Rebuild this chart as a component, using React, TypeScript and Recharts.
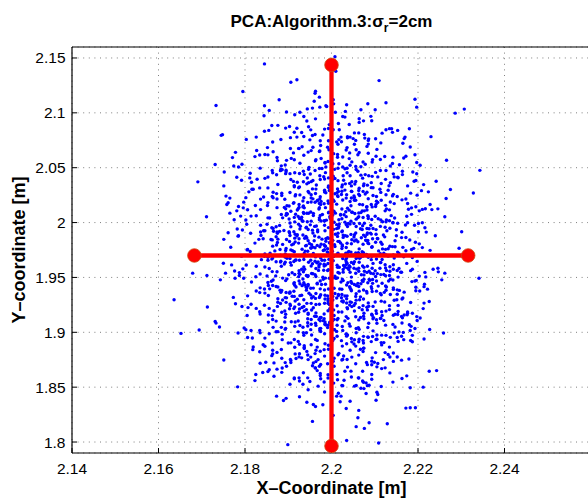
import { ScatterChart, Scatter, XAxis, YAxis, CartesianGrid, Label } from "recharts";

const FONT = "'Liberation Sans', Arial, Helvetica, sans-serif";

// tick values [m]
const xTicks = [2.14, 2.16, 2.18, 2.2, 2.22, 2.24];
const yTicks = [1.8, 1.85, 1.9, 1.95, 2, 2.05, 2.1, 2.15];

// estimated positions, [x, y] in units of 0.1 mm
// dense part of the cloud, above the minor axis (y >= 1.97 m)
const coreAbove: [number, number][] = [
  [22034,19773],[21938,19857],[22121,19720],[21996,19815],[22053,19889],[21869,19742],[22080,19836],[21975,19701],[22007,19798],[22172,19864],
  [21906,19751],[22061,19825],[21958,19719],[22103,19893],[21985,19787],[22079,19840],[21812,19736],[22117,19802],[21920,19878],[22024,19764],
  [22143,19706],[21967,19792],[22069,19861],[21881,19754],[22015,19829],[21846,19713],[22092,19895],[21940,19788],[22047,19843],[22153,19731],
  [21912,19805],[21961,19877],[22118,19760],[22210,19772],[21993,19856],[22056,19724],[21875,19818],[22032,19881],[21939,19740],[22084,19837],
  [22135,19784],[21896,19846],[22002,19738],[22046,19807],[21941,19873],[22190,19765],[21973,19779],[22095,19852],[21858,19721],[22021,19814],
  [22074,19886],[21910,19743],[21987,19830],[22126,19705],[21954,19798],[22162,19863],[21805,19751],[22018,19827],[22063,19716],[21921,19890],
  [22107,19853],[21992,19726],[22036,19811],[21904,19882],[22228,19747],[21960,19834],[22081,19709],[21873,19795],[22052,19868],[21984,19752],
  [22114,19820],[21937,19718],[22009,19894],[22141,19781],[21832,19847],[22040,19736],[21976,19803],[22078,19872],[21895,19763],[22093,19775],
  [22025,19796],[21943,19860],[22185,19754],[21916,19823],[22013,19712],[22120,19887],[21864,19785],[22057,19841],[21990,19733],[22086,19808],
  [21784,19876],[22064,19760],[21962,19771],[22106,19855],[22038,19727],[21924,19813],[22150,19880],[21981,19745],[22003,19838],[21882,19703],
  [21978,19849],[22071,19735],[21887,19801],[22014,19874],[21953,19768],[22147,19779],[21925,19852],[22033,19720],[21995,19816],[21837,19883],
  [22109,19742],[21946,19835],[22051,19706],[21908,19797],[22027,19865],[21932,19757],[22194,19821],[21893,19714],[22082,19892],[21986,19784],
  [21860,19846],[22045,19731],[21949,19809],[22123,19870],[21991,19762],[22165,19774],[21915,19858],[22062,19725],
  [22127,20024],[22005,19938],[22029,20071],[21851,19985],[22083,19906],[21972,20043],[21906,19962],[22048,20095],[21944,20007],[22219,19913],
  [21923,20056],[22016,19951],[21958,20084],[22142,19997],[21880,19920],[21997,20038],[22091,19976],[21826,20062],[22067,19943],[21984,20015],
  [21914,20047],[22113,19965],[21935,20092],[22031,20004],[21968,19917],[22174,20058],[21862,19953],[22009,20086],[22076,19994],[21890,19928],
  [22024,20035],[21951,19979],[22138,20063],[21927,19941],[22045,20012],[21775,20026],[22103,19936],[21979,20074],[22012,19981],[21903,19908],
  [22085,20053],[21942,19957],[21993,20089],[22201,19992],[21846,19925],[22057,20031],[21880,19974],[22021,20068],[22096,19946],[21932,20017],
  [21988,20022],[22150,19934],[21917,20076],[22034,19983],[21813,19902],[22061,20045],[21965,19969],[22002,20093],[22118,20008],[21874,19915],
  [21926,20037],[22072,19971],[21974,20064],[22135,19948],[21953,20013],[22017,20025],[21794,19932],[21898,20078],[22043,19986],[22090,19904],
  [21857,20042],[21961,19965],[22068,20091],[21915,20006],[22163,19912],[21996,20054],[22124,19958],[21947,20085],[22039,19993],[21866,19921],
  [21983,20016],[22087,19944],[21895,20067],[22192,19975],[21930,20034],[22025,19923],[21904,19996],[22054,20082],[21941,19952],[22101,20057],
  [21836,19914],[22006,20003],[22033,20098],[21928,19967],[22146,20041],[21957,19905],[22018,19987],[21884,20073],[22071,19937],[21972,20026],
  [22037,19964],[21931,20048],[22128,19926],[21994,20095],[22052,19991],[21865,19947],[22084,20063],[21976,20014],[22015,19903],[22171,19978],
  [21902,20032],[22063,20087],[21956,19931],
  [21874,20136],[22052,20243],[21953,20187],[22131,20294],[22006,20102],[22172,20215],[21925,20164],[22078,20261],[21971,20123],[21863,20238],
  [22104,20195],[22047,20282],[21902,20151],[21806,20117],[22023,20256],[21968,20204],[22145,20173],[21984,20278],[22081,20142],[21936,20226],
  [21885,20267],[22127,20124],[22015,20238],[21976,20193],[22073,20284],[21824,20156],[22041,20113],[21927,20252],[22163,20207],[21993,20175],
  [21948,20271],[22102,20146],[22034,20223],[21891,20138],[22065,20247],[21853,20182],[22208,20291],[22004,20105],[21957,20216],[22092,20164],
  [21917,20254],[22026,20206],[21983,20172],[22114,20275],[21785,20147],[22053,20228],[21937,20134],[22141,20243],[21962,20185],[22031,20296],
  [21906,20103],[22085,20217],[22012,20168],[21873,20264],[22178,20121],[21974,20236],[22043,20192],[21946,20283],[22125,20157],[21921,20114],
  [21995,20292],[22076,20107],[21836,20214],[22103,20166],[22008,20263],[21894,20125],[22152,20237],[21967,20198],[22024,20285],[21935,20152],
  [22232,20118],[21953,20254],[22056,20203],[21912,20176],[21987,20272],[22094,20143],[21865,20226],[22037,20131],[22014,20245],[22136,20187],
  [21973,20216],[22045,20153],[21904,20274],[22082,20115],[21992,20197],[22063,20258],
  [21973,20426],[22074,20335],[21882,20473],[22015,20382],[21956,20307],[22143,20444],[21921,20368],[22036,20495],[22008,20401],[21834,20316],
  [22102,20457],[21943,20353],[22057,20484],[21906,20392],[22024,20325],[21937,20438],[22191,20376],[21895,20462],[22083,20341],[21982,20417],
  [21864,20453],[22042,20357],[21947,20486],[22125,20394],[21993,20322],[22164,20437],[21912,20375],[22061,20468],[21965,20343],[21853,20415],
  [22094,20421],[22046,20334],[21895,20477],[21792,20386],[22014,20306],[21951,20442],[22136,20364],[21978,20493],[22072,20405],[21924,20317],
  [21876,20347],[22113,20474],[22002,20393],[21964,20305],[22068,20432],[21815,20368],[22031,20491],[21914,20326],[22153,20414],[21986,20455],
  [21935,20372],[22092,20318],[22027,20427],[21883,20486],[22054,20351],[21846,20403],[22197,20445],[21993,20334],
  [21964,20573],[22042,20635],[21893,20524],[22105,20667],[21987,20506],[21936,20614],[22073,20552],[21852,20683],[22026,20597],[22141,20538],
  [21953,20656],[22014,20621],[21907,20585],[22082,20694],[21985,20543],[22056,20512],[21924,20676],[22123,20602],[21972,20647],[21875,20564],
  [22034,20661],[22003,20536],[22167,20589],[21948,20503],[22061,20618],[21912,20635],[22095,20574],[21991,20687],[21834,20616],[22047,20553],
  [21974,20745],[22053,20817],[21903,20876],[22015,20714],[22086,20763],[21952,20845],[22114,20726],[21995,20893],[21864,20734],[22037,20782],
];

// more of the upper half, where the cloud is almost solid blue
const extraAbove: [number, number][] = [
  [22053,19832],[21894,19745],[22027,19886],[21942,19791],[22156,19718],[21987,19854],[22094,19779],[21823,19813],[22046,19704],[21971,19867],
  [22125,19756],[21916,19893],[22008,19782],[22074,19725],[21863,19842],[22203,19806],[21952,19768],[22036,19875],[21914,19734],[22102,19821],
  [21983,19798],[22067,19709],[21842,19853],[22131,19762],[21934,19887],[22015,19721],[22084,19814],[21876,19849],[22172,19743],[21957,19776],
  [21991,19862],[22113,19716],[21903,19827],[22045,19892],[21806,19754],[22073,19803],[21945,19738],[22147,19834],[22025,19785],[21872,19871],
  [21984,19976],[22063,20054],[21843,19925],[22134,20017],[21936,20082],[22012,19945],[22085,20036],[21875,19903],[22176,19998],[21958,20065],
  [21993,19954],[22114,20023],[21902,19917],[22047,20094],[21804,19985],[22073,20046],[21946,19937],[22142,20001],[22021,20073],[21872,19962],
  [22093,20028],[21968,19933],[22185,20075],[21924,19984],[22056,19905],[21853,20043],[22017,19964],[21952,20096],[22126,20007],[21913,19917],
  [22034,20054],[22216,19953],[21896,20083],[22065,19992],[21985,19926],[22108,20035],[21836,19976],[22003,20068],[22082,19946],[21934,20012],
  [22057,19964],[21887,20043],[22024,19916],[21943,20085],[22153,19994],
  [21934,20143],[22082,20276],[22006,20194],[21836,20118],[22104,20237],[21975,20165],[22063,20292],[21892,20213],[22217,20126],[22035,20254],
  [21913,20182],[22124,20107],[21953,20225],[22016,20283],[21852,20156],[22053,20204],[21925,20137],[22183,20268],[21972,20174],[22096,20246],
  [21874,20215],[22024,20123],[22143,20257],[21945,20184],[22071,20105],[21802,20227],[22046,20286],[21897,20153],[22115,20204],[21986,20136],
  [21963,20265],[22176,20174],[21885,20247],[22082,20145],[22013,20273],[21934,20196],[22134,20116],[21843,20233],[22065,20166],[21984,20294],
  [22107,20184],[21916,20243],[21972,20135],[22046,20224],[22203,20107],[21865,20276],[22072,20163],[22004,20205],[21923,20126],[22126,20254],
  [22036,20454],[21914,20337],[22145,20416],[21953,20373],[22007,20485],[22112,20304],[21873,20436],[22075,20353],[21984,20397],[22164,20468],
  [21926,20325],[22043,20427],[21835,20496],[22092,20364],[21993,20407],[22064,20313],[21894,20446],[22195,20383],[21962,20475],[22025,20342],
  [21947,20364],[22126,20475],[21853,20316],[22086,20427],[21974,20393],[22015,20495],[22133,20336],[21904,20446],[22056,20374],[21816,20303],
  [22107,20416],[21935,20467],[22032,20353],[22154,20408],[21886,20482],[21993,20325],[22078,20437],[21957,20384],[22213,20346],[21915,20454],
  [22004,20423],[22096,20317],[21863,20475],[22047,20372],[21944,20406],[22176,20334],[21972,20493],[22115,20356],[21926,20447],[22028,20385],
  [21963,20564],[22085,20632],[21884,20517],[22036,20683],[22142,20596],[21927,20541],[21994,20663],[21853,20617],[22068,20508],[22113,20575],
  [21946,20642],[22017,20536],[22172,20604],[21905,20675],[22043,20523],[21976,20584],[21827,20657],[22094,20552],[22005,20628],[21932,20691],
  [22136,20515],[21874,20593],[22057,20664],[21985,20547],[22193,20618],[21914,20573],[22026,20506],[21865,20645],[22078,20532],[21957,20687],
  [22103,20604],[21992,20556],[21846,20621],[22041,20583],[21925,20674],[22157,20527],[21973,20652],[21896,20567],[22064,20638],[22014,20595],
  [21993,20746],[21914,20823],[22085,20715],[21862,20884],[22037,20772],[22134,20856],[21956,20793],[22012,20735],[21894,20861],[22063,20817],
  [21975,20703],[22102,20764],[21845,20832],[22041,20894],[21936,20785],[22165,20723],[22004,20846],[21883,20757],[22076,20802],[21947,20873],
  [22023,20736],[22117,20815],[21905,20774],[21984,20852],[22053,20714],
  [21963,20945],[22032,21013],[21915,20982],[22074,20927],[21987,21064],[22016,20903],[21944,21036],[22091,20968],[21896,21007],[22005,21082],
];

// dense part of the cloud, below the minor axis (y < 1.97 m)
const coreBelow: [number, number][] = [
  [22082,19546],[21904,19673],[21971,19595],[22134,19517],[21947,19638],[22183,19562],[21792,19694],[22013,19611],[22075,19523],[21916,19657],
  [22112,19584],[21980,19502],[22036,19629],[21893,19685],[22247,19551],[21953,19604],[22091,19538],[21862,19667],[22058,19576],[21969,19642],
  [22124,19615],[21927,19528],[22004,19653],[22156,19581],[21825,19506],[22051,19624],[21963,19687],[22087,19557],[21884,19602],[22106,19535],
  [22033,19661],[21938,19574],[22198,19646],[21909,19543],[22026,19672],[22135,19597],[21851,19513],[22064,19638],[21982,19565],[22093,19692],
  [21776,19558],[22072,19604],[21954,19536],[22117,19663],[22040,19572],[21913,19645],[22162,19547],[21975,19678],[22018,19593],[21871,19514],
  [22046,19637],[21925,19561],[22131,19694],[21986,19612],[22069,19525],[21853,19656],[22094,19583],[21964,19508],[21992,19627],[22187,19681],
  [21897,19674],[22075,19592],[21942,19518],[22113,19636],[21970,19564],[22086,19697],[21803,19613],[22121,19527],[21918,19659],[22037,19586],
  [22154,19503],[21956,19625],[22062,19681],[21874,19552],[22028,19609],[21835,19531],[22104,19668],[21931,19574],[22053,19643],[22160,19548],
  [21901,19524],[21978,19656],[22125,19587],[22218,19505],[21983,19621],[22067,19684],[21863,19553],[22041,19608],[21925,19537],[22092,19662],
  [22143,19575],[21882,19641],[22015,19546],[22057,19673],[21936,19595],[22203,19512],[21966,19634],[22101,19561],[21845,19692],[22034,19618],
  [21957,19534],[22096,19628],[21993,19571],[22145,19676],[21924,19507],[22043,19595],[21872,19643],[22076,19557],[22005,19691],[21971,19614],
  [22114,19526],[21838,19662],[22052,19584],[21905,19635],[22027,19548],[22167,19689],[21946,19515],[22083,19602],[21984,19657],[22127,19563],
  [21891,19622],[22018,19539],[22065,19674],[21856,19581],[22102,19508],[21962,19647],[22031,19593],[21935,19552],
  [21974,19396],[22012,19313],[21925,19467],[21834,19362],[22058,19425],[21931,19338],[22087,19481],[22043,19404],[21992,19307],[22061,19446],
  [22094,19372],[21797,19493],[22136,19345],[21918,19413],[22003,19326],[21815,19458],[22152,19387],[22089,19474],[22057,19352],[21986,19438],
  [21904,19367],[22108,19421],[21927,19334],[22025,19485],[22006,19402],[21963,19309],[22117,19447],[22064,19375],[21995,19492],[21952,19341],
  [22214,19416],[21909,19328],[21853,19454],[22126,19383],[22071,19472],[21948,19356],[22035,19431],[22093,19398],[21896,19314],[22186,19462],
  [21981,19484],[21943,19405],[22163,19303],[21967,19441],[22046,19378],[22014,19496],[21975,19342],[21872,19417],[21958,19325],[22038,19453],
  [21984,19386],[22027,19471],[21846,19357],[21939,19432],[22019,19394],[21773,19318],[22132,19467],[21895,19363],[21864,19426],[22031,19331],
  [21913,19443],[21826,19376],[21887,19494],[22016,19345],[21941,19412],[21973,19327],[22022,19458],[21885,19381],[22142,19476],[22008,19353],
  [21946,19437],[22024,19392],[21893,19316],[21861,19465],[22122,19364],[21915,19428],[21854,19335],[21897,19487],[21952,19401],[22074,19304],
  [22115,19342],[22063,19418],[21914,19327],[21936,19452],[21881,19384],[22196,19473],[22082,19357],[21977,19435],[22045,19391],[21954,19312],
  [22073,19464],[22168,19366],[21932,19425],[21985,19337],[22095,19481],[22143,19405],[21921,19301],[22047,19447],[22081,19373],[22009,19495],
  [21964,19354],[22125,19422],[21934,19486],[22023,19315],[21857,19396],[22068,19443],[21991,19332],[22104,19467],[21913,19374],[22042,19415],
  [21876,19306],[22157,19382],[22011,19493],
  [22093,19164],[21895,19273],[22071,19206],[21976,19135],[22042,19248],[21834,19187],[22145,19292],[22006,19118],[21932,19226],[22117,19153],
  [21984,19265],[22053,19194],[21872,19102],[22086,19237],[21961,19146],[22226,19281],[21903,19214],[22038,19127],[21995,19253],[22104,19172],
  [21924,19183],[22065,19296],[22013,19114],[21807,19225],[22168,19157],[21953,19264],[22126,19193],[21981,19106],[21915,19232],[22074,19147],
  [22027,19285],[21856,19218],[22096,19123],[21972,19256],[22187,19174],[21946,19165],[22043,19277],[22005,19204],[21893,19136],[22134,19243],
  [22085,19268],[21937,19195],[22031,19104],[21875,19236],[22056,19142],[21992,19287],[22212,19216],[22114,19128],[21964,19253],[21917,19174],
  [22153,19162],[22046,19273],[21942,19207],[22097,19134],[21845,19246],[22016,19185],[21887,19294],[22063,19113],[21958,19224],[22143,19156],
  [22024,19284],[21926,19212],[22113,19126],[21814,19255],[22075,19173],[21983,19167],[22101,19276],[21954,19203],[22067,19135],[21905,19244],
  [22176,19186],[22003,19295],[21971,19116],[22082,19228],[21863,19152],[22055,19262],[21992,19197],[22121,19107],[21936,19235],[22034,19143],
  [21964,19176],[22037,19214],[21882,19263],[22104,19115],[22013,19242],[21945,19124],
  [22006,18943],[22041,19075],[21942,18996],[22187,18914],[21973,19032],[22095,18962],[21854,19093],[22026,19017],[22073,18925],[21915,19054],
  [21984,18987],[22121,18906],[21952,19024],[22163,19085],[21806,18953],[22012,19008],[22064,18937],[21927,19062],[22105,18976],[21991,19043],
  [22034,18985],[21906,18904],[22227,19026],[21963,19083],[22085,18954],[21872,19005],[22053,18932],[21987,19067],[22116,18974],[21934,19046],
  [22001,18947],[22142,19072],[21835,18995],[22047,18913],[21975,19036],[22074,18963],[21892,19094],[22096,19013],[22023,18924],[21945,19057],
  [22182,19016],[21914,18935],[22013,19064],[22126,18972],[21863,18903],[22057,19035],[21996,19092],[22084,18957],[21784,18994],[22062,19043],
  [21967,18926],[22105,19083],[22035,18965],[21923,19004],[22154,18917],[21985,19075],[22007,19024],[21886,18983],
  [22043,18836],[21952,18774],[21993,18882],[22081,18725],[21916,18803],[22024,18747],[22134,18865],[21975,18706],[21884,18843],[22063,18792],
  [22006,18764],[21937,18878],[22102,18815],[21964,18733],[22035,18896],[21862,18787],[22074,18854],[21991,18713],[22152,18775],[21943,18826],
  [22017,18808],[21905,18753],[22056,18874],[21983,18842],[22093,18737],[21926,18891],[22028,18784],[21967,18865],
  [21992,18583],[22045,18646],[21934,18527],[22093,18615],[21963,18674],[22024,18516],[21885,18635],[22072,18557],
];

// more of the lower half
const extraBelow: [number, number][] = [
  [21974,19624],[22063,19557],[21853,19683],[22125,19516],[22014,19592],[21936,19664],[22187,19575],[21893,19638],[22046,19503],[21952,19657],
  [22097,19534],[21826,19602],[22035,19676],[21991,19563],[22143,19615],[21915,19527],[22072,19694],[21964,19581],[22216,19546],[21883,19648],
  [22027,19572],[21945,19509],[22114,19635],[21864,19676],[22056,19538],[21983,19604],[22152,19563],[21926,19657],[22008,19512],[22085,19684],
  [21846,19595],[22034,19643],[21962,19526],[22135,19557],[21907,19612],[22063,19584],[21994,19665],[22174,19628],[21936,19693],[22043,19547],
  [22053,19436],[21904,19362],[22136,19483],[21972,19317],[21835,19405],[22084,19452],[22016,19336],[21942,19384],[22193,19467],[21876,19413],
  [22035,19306],[22104,19375],[21927,19442],[21986,19494],[22152,19347],[21854,19426],[22067,19323],[21993,19395],[21894,19471],[22113,19354],
  [21958,19403],[22045,19464],[21806,19332],[22074,19385],[21936,19437],[22165,19312],[22002,19495],[21883,19364],[22092,19416],[21967,19447],
  [22024,19345],[22143,19391],[21865,19476],[22056,19327],[21914,19453],[21985,19304],[22204,19376],[21946,19425],[22075,19484],[21903,19356],
  [22127,19413],[21974,19467],[22036,19332],[21845,19394],[22095,19446],
  [21946,19175],[22073,19243],[21864,19116],[22115,19284],[22006,19153],[21913,19216],[22164,19132],[22035,19267],[21892,19194],[21974,19105],
  [22096,19236],[21835,19167],[22057,19293],[21983,19124],[22134,19207],[21925,19256],[22024,19185],[22197,19143],[21876,19274],[22064,19225],
  [21953,19117],[22103,19196],[21992,19265],[21854,19158],[22047,19234],[21936,19296],[22176,19173],[22015,19126],[21904,19257],[22083,19204],
  [21965,19145],[21826,19218],[22123,19276],[22003,19107],[21885,19183],[22052,19244],[21974,19136],[22147,19164],[21916,19285],[22036,19225],
  [22094,19156],[21943,19264],[21867,19197],[22075,19123],[21996,19214],[22154,19245],[21923,19103],[22027,19276],[21894,19165],[22116,19187],
  [22013,18964],[21894,19036],[22092,18915],[21953,19074],[22145,18993],[21846,18947],[22043,19056],[21975,19007],[21916,19094],[22183,18925],
  [22064,19027],[21936,18973],[21992,19064],[22115,18906],[21865,19045],[22034,18983],[21963,18935],[22086,19083],[21814,19016],[22136,18954],
  [21985,19072],[21923,18917],[22057,18996],[21884,19045],[22162,18964],[22006,19023],[21945,19087],[22103,18935],[21876,19006],[22025,19053],
  [22074,18903],[21954,18976],[22193,19035],[21907,19096],[22046,18944],[21973,19017],[22125,19065],[21856,18987],[22003,18925],[22084,19044],
  [21935,18996],[22152,18953],[21996,19085],[21893,19027],[22063,18914],[21964,19063],[22037,18975],[21834,19016],[22105,18937],[21985,19094],
  [21984,18783],[22075,18856],[21906,18724],[22124,18815],[21953,18887],[22036,18752],[21864,18836],[22093,18704],[22015,18795],[21937,18863],
  [22162,18746],[21974,18827],[22052,18894],[21885,18763],[22107,18715],[21993,18846],[21926,18804],[22143,18735],[21846,18873],[22047,18774],
  [21964,18836],[22083,18705],[21915,18864],[22026,18753],[21874,18817],[22116,18885],[22004,18736],[21945,18793],[22067,18846],[21893,18724],
  [22135,18775],[21985,18896],[21834,18823],[22056,18714],[21937,18852],[22094,18767],[21962,18806],[22025,18874],[21906,18743],[22073,18825],
  [22014,18567],[21935,18632],[22083,18514],[21886,18675],[22046,18593],[22142,18546],[21967,18651],[21992,18614],[21904,18527],[22063,18583],
  [21853,18642],[22115,18506],[21974,18625],[22037,18683],[21926,18556],[22174,18603],[22005,18537],[21874,18664],[22093,18572],[21956,18695],
  [22026,18513],[21914,18584],[22072,18645],[21983,18547],[21825,18616],
  [21984,18456],[22043,18372],[21926,18413],[22075,18487],[21963,18324],[22016,18445],[21895,18398],[22107,18433],[21946,18476],[22034,18305],
];

// sparse fringe of the cloud
const fringe: [number, number][] = [
  [21845,21446],[21906,21279],[21920,21301],[21795,21194],[21879,21119],[21733,21067],[21845,21064],[21856,21022],[21844,20974],[21963,21197],
  [21962,21179],[21972,21143],[21960,21106],[21956,21043],[21973,21052],[21989,21058],[21927,21006],[21936,20967],[21943,20925],
  [21745,20795],[21748,20801],[21803,20758],[21826,20779],[21855,20840],[21876,20886],[21920,20860],[21931,20821],[21920,20779],[21950,20754],
  [21962,20803],[21980,20798],[21993,20857],
  [21778,20640],[21771,20592],[21731,20529],[21774,20516],[21793,20531],[21785,20507],[21823,20601],[21752,20461],[21781,20413],[21691,20371],
  [21751,20334],[21756,20241],[21765,20223],[21761,20180],[21758,20165],[21781,20107],[21765,20086],[21797,20186],[21796,20134],[21711,20053],
  [21812,20450],[21811,20407],[21828,20395],[21819,20304],[21809,20280],
  [21761,19907],[21751,19847],[21767,19775],[21785,19880],[21782,19941],[21790,20059],[21802,20023],[21814,20059],
  [22008,21512],[22010,21379],[22110,21294],[22004,21119],[22035,21074],[22084,21083],[22126,21092],[22193,21124],[22197,21052],[22009,21006],
  [22068,21028],[22101,21028],[22286,20997],[22307,21034],[22026,20967],[22031,20961],[22064,20946],[22064,20913],[22093,20928],[22018,20846],
  [22022,20779],[22017,20756],[22126,20846],[22139,20855],[22153,20840],[22141,20822],[22180,20855],[22230,20783],[22170,20779],[22168,20765],
  [22043,20779],[22050,20765],[22056,20749],[22077,20770],[22085,20749],[22182,20689],
  [22266,20568],[22343,20476],[22328,20270],[22275,20301],[22265,20219],[22262,20053],[22240,19880],[22301,19916],[22295,19766],[22242,20377],
  [22224,20280],[22228,20165],[22246,20125],[22210,20120],[22210,19998],[22198,20250],[22205,20522],[22188,20461],[22197,20547],[22195,20144],
  [22185,20134],[22201,19916],[22181,19841],
  [21679,19539],[21712,19517],[21743,19478],[21755,19539],[21769,19614],[21750,19629],[21787,19544],[21795,19578],[21787,19517],[21777,19493],
  [21636,19296],[21713,19230],[21652,18990],[21694,19021],[21731,19099],[21733,19084],[21741,19048],[21751,18748],[21783,18503],[21778,19260],
  [21793,19235],[21798,19039],[21802,19024],[21805,19153],[21817,18948],[21819,18866],[21818,18842],[21842,18887],[21835,18718],[21848,18727],
  [21867,18721],[21864,18803],[21841,18633],[21856,18658],[21867,18600],[21823,18560],[21873,18418],[21889,18379],[21896,18690],[21886,18933],
  [21900,18903],[21914,18576],[21925,18585],[21945,18585],[21950,18551],[21943,18363],[21958,18342],[21980,18340],[21956,18188],[21899,17976],
  [21969,18509],[21974,18606],[21975,18576],[21972,18690],[21969,18751],[21925,18776],[21931,18767],[21918,18761],[21946,18751],[21958,18721],
  [21962,18676],
  [22341,19493],[22255,19478],[22262,19539],[22246,19584],[22235,19575],[22222,19393],[22215,19439],[22195,19411],[22195,19378],[22183,19272],
  [22214,19266],[22205,19130],[22198,19108],[22180,19069],[22184,19054],[22187,18972],[22167,18933],[22156,19003],[22166,18999],[22147,19048],
  [22162,19144],[22175,19160],[22154,19190],[22151,19296],[22259,18994],[22214,18939],[22226,18645],[22243,18651],[22212,18500],[22182,18494],
  [22163,18579],[22179,18757],[22172,18309],[22182,18312],[22194,18312],[22129,18167],[22109,17991],[22035,18015],[22087,18176],[22076,18124],
  [22057,18140],[22061,18221],[22063,18288],[22103,18381],[22105,18454],[22087,18517],[22080,18539],[22074,18545],[22068,18490],[22057,18515],
  [22053,18509],[22080,18442],[22062,18585],[22012,18418],[22022,18418],[22020,18367],[22004,18243],[22031,18645],[22029,18563],[22013,18615],
  [22006,18690],[22135,18630],[22124,18676],[22116,18669],[22105,18685],[22099,18727],[22120,18751],[22131,18797],[22143,18812],
];

// ends of the two principal-axis segments [m]
const majorAxis: [number, number][] = [[2.2, 1.7964], [2.2, 2.1437]];
const minorAxis: [number, number][] = [[2.1683, 1.97], [2.2316, 1.97]];

const cloud = [...coreAbove, ...extraAbove, ...coreBelow, ...extraBelow, ...fringe].map(([x, y]) => ({
  x: x / 10000,
  y: y / 10000,
}));
const toPoints = (list: [number, number][]) => list.map(([x, y]) => ({ x, y }));

const Dot = (p: any) => <circle cx={p.cx} cy={p.cy} r={1.7} fill="#0000ff" />;
const AxisEnd = (p: any) => (
  <circle cx={p.cx} cy={p.cy} r={6.8} fill="#ff0000" stroke="#cc4a10" strokeWidth={0.8} />
);

const Title = (p: any) => {
  const vb = p.viewBox || { x: 72, width: 519 };
  return (
    <text x={vb.x + vb.width / 2} y={27} textAnchor="middle" fontFamily={FONT} fontSize={17} fontWeight="bold" fill="#000">
      PCA:Algorithm.3:σ<tspan fontSize={12} dy={5}>r</tspan>
      <tspan dy={-5}>=2cm</tspan>
    </text>
  );
};

const XTitle = (p: any) => {
  const vb = p.viewBox || { x: 72, width: 519 };
  return (
    <text x={vb.x + vb.width / 2} y={494} textAnchor="middle" fontFamily={FONT} fontSize={18} fontWeight="bold" fill="#000">
      X–Coordinate [m]
    </text>
  );
};

const YTitle = (p: any) => {
  const vb = p.viewBox || { x: 0, y: 47, height: 406 };
  const cx = vb.x + 19;
  const cy = vb.y + vb.height / 2;
  return (
    <text x={cx} y={cy} dy="0.36em" transform={`rotate(-90 ${cx} ${cy})`} textAnchor="middle" fontFamily={FONT} fontSize={18} fontWeight="bold" fill="#000">
      Y–coordinate [m]
    </text>
  );
};

const tickStyle = { fill: "#000", fontSize: 15.5, fontFamily: FONT };

export default function App() {
  return (
    <div style={{ position: "absolute", left: 0, top: 0, width: 588, height: 500, overflow: "hidden", background: "#fff" }}>
      <ScatterChart width={602} height={500} margin={{ top: 46, right: 11, bottom: 0, left: 0 }}>
        <CartesianGrid stroke="#7f7f7f" strokeDasharray="1 4.6" />
        <XAxis
          type="number"
          dataKey="x"
          domain={[2.14, 2.26]}
          ticks={xTicks}
          interval={0}
          allowDataOverflow
          height={47}
          tickSize={-5}
          tickMargin={15}
          tick={tickStyle}
          axisLine={{ stroke: "#000", strokeWidth: 1.2 }}
          tickLine={{ stroke: "#000" }}
        >
          <Label content={XTitle} />
        </XAxis>
        <XAxis
          xAxisId="top"
          orientation="top"
          type="number"
          dataKey="x"
          domain={[2.14, 2.26]}
          ticks={xTicks}
          interval={0}
          allowDataOverflow
          height={1}
          tickSize={-5}
          tick={false}
          axisLine={{ stroke: "#000", strokeWidth: 1.2 }}
          tickLine={{ stroke: "#000" }}
        >
          <Label content={Title} />
        </XAxis>
        <YAxis
          type="number"
          dataKey="y"
          domain={[1.79, 2.16]}
          ticks={yTicks}
          interval={0}
          allowDataOverflow
          width={72}
          tickSize={-5}
          tickMargin={11.5}
          tick={tickStyle}
          axisLine={{ stroke: "#000", strokeWidth: 1.2 }}
          tickLine={{ stroke: "#000" }}
        >
          <Label content={YTitle} />
        </YAxis>
        <Scatter data={cloud} shape={Dot} isAnimationActive={false} />
        <Scatter
          data={toPoints(minorAxis)}
          line={{ stroke: "#ff0000", strokeWidth: 4.3 }}
          shape={AxisEnd}
          isAnimationActive={false}
        />
        <Scatter
          data={toPoints(majorAxis)}
          line={{ stroke: "#ff0000", strokeWidth: 4.3 }}
          shape={AxisEnd}
          isAnimationActive={false}
        />
      </ScatterChart>
    </div>
  );
}
